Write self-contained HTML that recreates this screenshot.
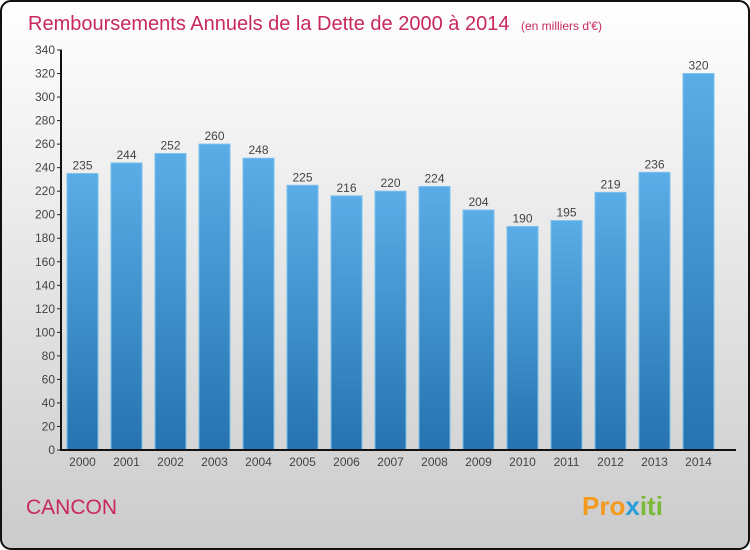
<!DOCTYPE html>
<html><head><meta charset="utf-8"><style>
body{margin:0;}
#c{width:750px;height:550px;position:relative;overflow:hidden;}
svg text{font-family:"Liberation Sans",sans-serif;}
</style></head><body>
<div id="c">
<svg id="s" width="750" height="550" xmlns="http://www.w3.org/2000/svg">
<defs>
<linearGradient id="bg" x1="0" y1="0" x2="0" y2="1"><stop offset="0" stop-color="#ffffff"/><stop offset="1" stop-color="#cbcbcb"/></linearGradient>
<linearGradient id="bar" x1="0" y1="0" x2="0" y2="1"><stop offset="0" stop-color="#5aade6"/><stop offset="1" stop-color="#2573b0"/></linearGradient>
</defs>
<rect x="1" y="1" width="748" height="548" rx="10" fill="url(#bg)" stroke="#111" stroke-width="2"/>
<text x="28" y="30" font-size="20" fill="#c8285a">Remboursements Annuels de la Dette de 2000 à 2014 <tspan font-size="12" dx="6">(en milliers d'€)</tspan></text>
<text x="26" y="514" font-size="21" fill="#c8285a">CANCON</text>
<text x="582" y="515" font-size="26" font-weight="bold" fill="#f39a1f">Pro<tspan fill="#2a9ed8">x</tspan><tspan fill="#7ab935">iti</tspan></text>
<g id="g"></g>
</svg>
</div>
<script>
const categories=["2000","2001","2002","2003","2004","2005","2006","2007","2008","2009","2010","2011","2012","2013","2014"];
const values=[235,244,252,260,248,225,216,220,224,204,190,195,219,236,320];
const yTicks=[0,20,40,60,80,100,120,140,160,180,200,220,240,260,280,300,320,340];
const NS="http://www.w3.org/2000/svg";
const g=document.getElementById('g');
const y0=450,yTop=50,yMax=340;
const y=v=>y0-(v/yMax)*(y0-yTop);
const x=i=>82.5+i*44;
function mk(t,a){const e=document.createElementNS(NS,t);for(const k in a)e.setAttribute(k,a[k]);g.appendChild(e);return e;}
yTicks.forEach(t=>{
 const l=mk('line',{x1:57,x2:62,y1:y(t),y2:y(t),stroke:'#222'});
 
 
 const tx=mk('text',{x:55,y:y(t)+4,'font-size':12,'text-anchor':'end',fill:'#444'});
 tx.textContent=t;
 
 
});
values.forEach((v,i)=>{
 const r=mk('rect',{x:x(i)-15.5,y:y(v),width:31,height:y0-y(v),fill:'url(#bar)',stroke:'#7cc0ee','stroke-width':1});
 
 
 const t=mk('text',{x:x(i),y:y(v)-4,'font-size':12,'text-anchor':'middle',fill:'#444'});
 t.textContent=v;
 
 
 const c=mk('text',{x:x(i),y:466,'font-size':12,'text-anchor':'middle',fill:'#444'});
 c.textContent=categories[i];
 
 
});
const ya=mk('line',{x1:61,x2:61,y1:y(yMax),y2:y0,stroke:'#111','stroke-width':2});


const xa=mk('line',{x1:60,x2:736,y1:y0,y2:y0,stroke:'#111','stroke-width':2});


</script>
</body></html>
